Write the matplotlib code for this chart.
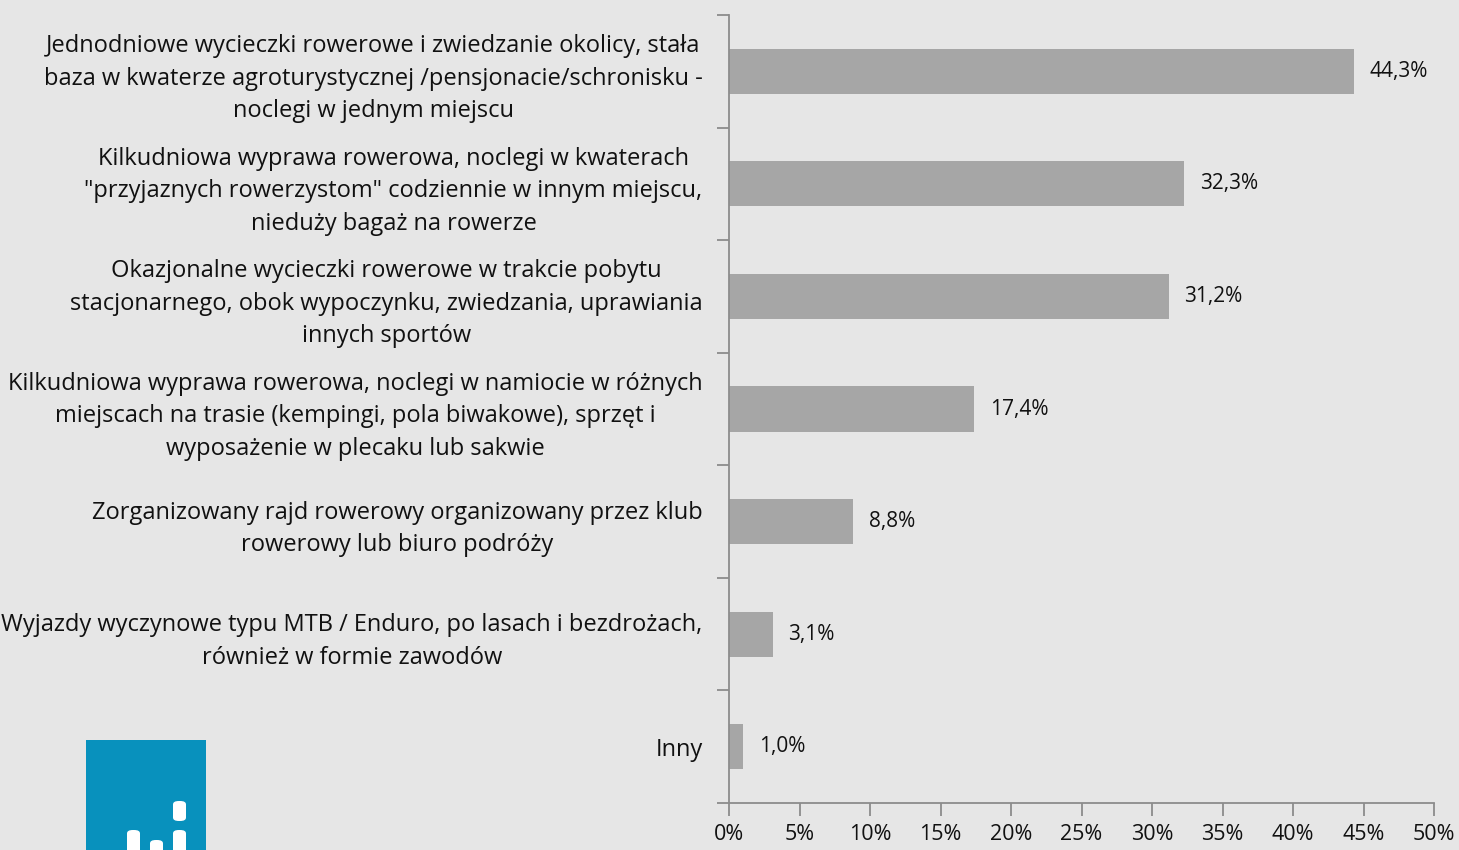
import numpy as np
import matplotlib.pyplot as plt
from matplotlib.patches import Rectangle, FancyBboxPatch

# data
categories = [
    "Jednodniowe wycieczki rowerowe i zwiedzanie okolicy, stała\nbaza w kwaterze agroturystycznej /pensjonacie/schronisku -\nnoclegi w jednym miejscu",
    "Kilkudniowa wyprawa rowerowa, noclegi w kwaterach\n\"przyjaznych rowerzystom\" codziennie w innym miejscu,\nnieduży bagaż na rowerze",
    "Okazjonalne wycieczki rowerowe w trakcie pobytu\nstacjonarnego, obok wypoczynku, zwiedzania, uprawiania\ninnych sportów",
    "Kilkudniowa wyprawa rowerowa, noclegi w namiocie w różnych\nmiejscach na trasie (kempingi, pola biwakowe), sprzęt i\nwyposażenie w plecaku lub sakwie",
    "Zorganizowany rajd rowerowy organizowany przez klub\nrowerowy lub biuro podróży",
    "Wyjazdy wyczynowe typu MTB / Enduro, po lasach i bezdrożach,\nrównież w formie zawodów",
    "Inny",
]
values = [44.3, 32.3, 31.2, 17.4, 8.8, 3.1, 1.0]
xticks = [0, 5, 10, 15, 20, 25, 30, 35, 40, 45, 50]

bg = '#e6e6e6'
plt.rcParams['font.family'] = ['Open Sans', 'DejaVu Sans']

fig = plt.figure(figsize=(14.59, 8.5), dpi=100, facecolor=bg)
ax = fig.add_axes([729/1459, 1 - 803/850, (1434 - 729)/1459, (803 - 15)/850])
ax.set_facecolor(bg)

n = len(categories)
y = np.arange(n)
ax.barh(y, values, height=0.4, color='#a6a6a6')
ax.set_ylim(n - 0.5, -0.5)
ax.set_xlim(0, 50)

for yi, v in zip(y, values):
    ax.text(v + 1.1, yi, f"{v:.1f}%".replace('.', ','), va='center', ha='left',
            fontsize=15, color='#111111')

ax.set_yticks(y)
ax.set_yticklabels(categories, fontsize=17, color='#111111')
for lab in ax.get_yticklabels():
    lab.set_multialignment('center')
    lab.set_linespacing(1.47)
ax.tick_params(axis='y', which='major', length=0, pad=19)
ax.set_yticks(np.arange(n + 1) - 0.5, minor=True)
ax.tick_params(axis='y', which='minor', length=9, width=1.3, color='#8c8c8c')

ax.set_xticks(xticks)
ax.set_xticklabels([f"{t}%" for t in xticks], fontsize=15.5, color='#111111')
ax.tick_params(axis='x', length=9, width=1.3, color='#8c8c8c', pad=6)

for s in ['top', 'right']:
    ax.spines[s].set_visible(False)
for s in ['left', 'bottom']:
    ax.spines[s].set_color('#8c8c8c')
    ax.spines[s].set_linewidth(1.3)

# logo in the lower left corner
W, H = 1459, 850
fig.patches.append(Rectangle((86 / W, 0), 120 / W, 110 / H, transform=fig.transFigure,
                             facecolor='#0891bd', edgecolor='none'))
for x0, y0, y1 in [(127, 830, 860), (150, 840, 860), (173, 830, 860), (173, 801, 821)]:
    fig.patches.append(FancyBboxPatch((x0 / W, 1 - y1 / H), 13 / W, (y1 - y0) / H,
                                      boxstyle='round,pad=0,rounding_size=0.004',
                                      transform=fig.transFigure,
                                      facecolor='white', edgecolor='none'))

fig.savefig('out.png', dpi=100, facecolor=bg)
